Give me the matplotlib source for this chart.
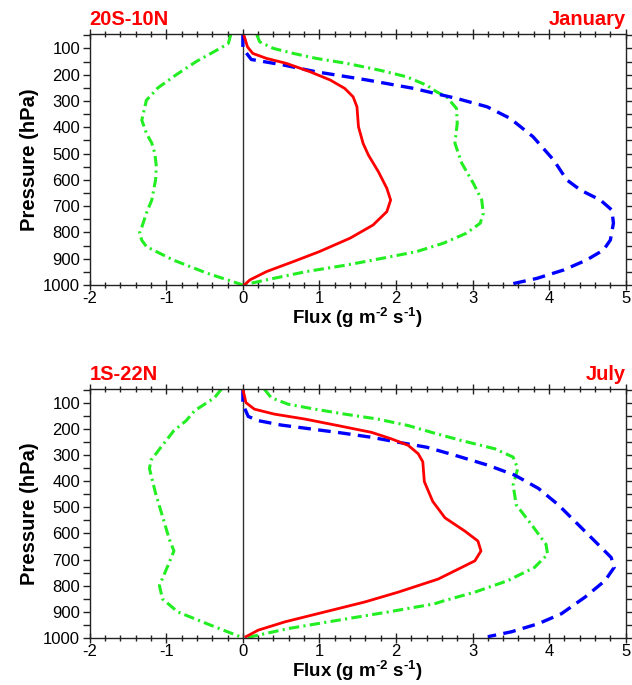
import numpy as np
import matplotlib
matplotlib.use("Agg")
import matplotlib.pyplot as plt
from matplotlib.ticker import MultipleLocator

plt.rcParams['font.family'] = ['Liberation Sans', 'DejaVu Sans']
plt.rcParams['mathtext.fontset'] = 'custom'
plt.rcParams['mathtext.rm'] = 'Liberation Sans:bold'
plt.rcParams['mathtext.it'] = 'Liberation Sans:bold'
plt.rcParams['mathtext.bf'] = 'Liberation Sans:bold'
plt.rcParams['axes.unicode_minus'] = False

# ---- January, 20S-10N ----
jan_red_p = [46, 94, 119, 138, 157, 189, 220, 252, 284, 322, 398, 461, 506, 569, 632, 677, 721, 772, 822, 873, 911, 949, 981, 1000]
jan_red_x = [0.01, 0.06, 0.13, 0.31, 0.57, 0.88, 1.14, 1.33, 1.44, 1.49, 1.51, 1.57, 1.64, 1.77, 1.88, 1.93, 1.88, 1.70, 1.40, 1.00, 0.66, 0.31, 0.09, 0.02]

jan_blue_p = [46, 100, 142, 163, 189, 220, 252, 274, 290, 322, 366, 436, 525, 600, 639, 677, 715, 765, 829, 867, 905, 943, 975, 1000]
jan_blue_x = [0.0, 0.0, 0.11, 0.53, 0.96, 1.62, 2.23, 2.55, 2.79, 3.19, 3.49, 3.79, 4.06, 4.23, 4.41, 4.67, 4.82, 4.84, 4.80, 4.71, 4.49, 4.19, 3.84, 3.45]

jan_gpos_p = [46, 75, 100, 119, 138, 157, 183, 208, 240, 265, 284, 328, 385, 461, 537, 613, 677, 727, 765, 803, 841, 873, 898, 924, 949, 975, 1000]
jan_gpos_x = [0.18, 0.22, 0.40, 0.66, 0.96, 1.36, 1.79, 2.14, 2.40, 2.53, 2.66, 2.79, 2.80, 2.77, 2.86, 3.01, 3.12, 3.14, 3.10, 2.92, 2.62, 2.27, 1.83, 1.36, 0.83, 0.40, 0.0]

jan_gneg_p = [46, 81, 100, 150, 200, 250, 297, 373, 423, 460, 499, 550, 600, 677, 727, 780, 803, 830, 854, 905, 955, 1000]
jan_gneg_x = [-0.157, -0.19, -0.30, -0.61, -0.87, -1.11, -1.26, -1.32, -1.26, -1.19, -1.15, -1.13, -1.14, -1.19, -1.26, -1.32, -1.35, -1.32, -1.26, -0.91, -0.47, 0.0]

# ---- July, 1S-22N ----
jul_red_p = [46, 98, 123, 142, 161, 186, 212, 237, 262, 294, 325, 401, 477, 540, 591, 629, 667, 705, 743, 775, 825, 863, 901, 939, 971, 996]
jul_red_x = [0.0, 0.04, 0.15, 0.41, 0.81, 1.24, 1.68, 1.94, 2.16, 2.29, 2.35, 2.37, 2.48, 2.64, 2.90, 3.07, 3.11, 3.03, 2.77, 2.55, 2.03, 1.59, 1.07, 0.55, 0.20, 0.04]

jul_blue_p = [46, 104, 151, 167, 184, 199, 214, 231, 250, 269, 300, 338, 376, 427, 490, 566, 642, 692, 730, 781, 844, 908, 946, 977, 996]
jul_blue_x = [0.0, 0.0, 0.07, 0.20, 0.50, 0.89, 1.28, 1.68, 2.03, 2.40, 2.77, 3.20, 3.55, 3.86, 4.12, 4.38, 4.64, 4.81, 4.85, 4.73, 4.47, 4.16, 3.86, 3.51, 3.20]

jul_gpos_p = [46, 79, 104, 123, 142, 161, 186, 215, 243, 275, 307, 351, 414, 490, 566, 642, 680, 730, 781, 825, 857, 870, 901, 933, 965, 990, 1000]
jul_gpos_x = [0.28, 0.37, 0.59, 0.94, 1.33, 1.76, 2.16, 2.50, 2.85, 3.29, 3.53, 3.59, 3.53, 3.57, 3.77, 3.96, 3.98, 3.81, 3.46, 3.03, 2.64, 2.50, 1.90, 1.24, 0.59, 0.20, 0.05]

jul_gneg_p = [46, 79, 129, 167, 205, 269, 319, 351, 446, 534, 623, 667, 724, 800, 851, 901, 952, 1000]
jul_gneg_x = [-0.28, -0.37, -0.63, -0.74, -0.90, -1.07, -1.20, -1.22, -1.14, -1.05, -0.96, -0.90, -0.98, -1.09, -1.05, -0.85, -0.42, 0.0]

panels = [
    ("20S-10N", "January", jan_red_x, jan_red_p, jan_blue_x, jan_blue_p,
     jan_gpos_x, jan_gpos_p, jan_gneg_x, jan_gneg_p),
    ("1S-22N", "July", jul_red_x, jul_red_p, jul_blue_x, jul_blue_p,
     jul_gpos_x, jul_gpos_p, jul_gneg_x, jul_gneg_p),
]

pressure_ticks = [100, 200, 300, 400, 500, 600, 700, 800, 900, 1000]
flux_ticks = [-2, -1, 0, 1, 2, 3, 4, 5]

fig = plt.figure(figsize=(6.32, 6.85), dpi=100)
rects = [(0.142, 0.584, 0.848, 0.366), (0.142, 0.069, 0.848, 0.363)]

red = '#ff0000'
blue = '#0000ff'
green = '#22ee22'

for rect, panel in zip(rects, panels):
    region, month, rx, rp, bx, bp, gx, gp, nx, npr = panel
    ax = fig.add_axes(rect)
    ax.plot([0, 0], [46, 1000], color='#333333', lw=1.0)
    ax.plot(gx, gp, color=green, lw=2.2, dashes=(3.4, 1.4, 0.7, 1.4))
    ax.plot(nx, npr, color=green, lw=2.2, dashes=(3.4, 1.4, 0.7, 1.4))
    ax.plot(bx, bp, color=blue, lw=2.4, dashes=(3.8, 2.2))
    ax.plot(rx, rp, color=red, lw=2.0)

    ax.set_xlim(-2, 5)
    ax.set_ylim(1000, 46)
    ax.set_xticks(flux_ticks)
    ax.set_xticklabels([str(t) for t in flux_ticks])
    ax.set_yticks(pressure_ticks)
    ax.xaxis.set_minor_locator(MultipleLocator(0.2))
    ax.yaxis.set_minor_locator(MultipleLocator(50))
    ax.tick_params(which='both', direction='inout', top=True, right=True,
                   labelsize=12, width=1.0, color='#222222')
    ax.tick_params(which='major', length=7, pad=1)
    ax.tick_params(which='minor', length=5)
    ax.tick_params(axis='y', which='both', direction='out', length=5, pad=2)
    for s in ax.spines.values():
        s.set_color('#222222')
        s.set_linewidth(1.0)

    ax.set_ylabel('Pressure (hPa)', fontsize=14.5, fontweight='bold', labelpad=3)
    ax.set_xlabel(r'Flux (g m$^{\text{-2}}$ s$^{\text{-1}}$)', fontsize=13.5,
                  fontweight='bold', labelpad=0)
    ax.text(0.0, 1.02, region, transform=ax.transAxes, color=red,
            fontsize=14.5, fontweight='bold', ha='left', va='bottom')
    ax.text(1.0, 1.02, month, transform=ax.transAxes, color=red,
            fontsize=14.5, fontweight='bold', ha='right', va='bottom')

fig.savefig('out.png', dpi=100)
